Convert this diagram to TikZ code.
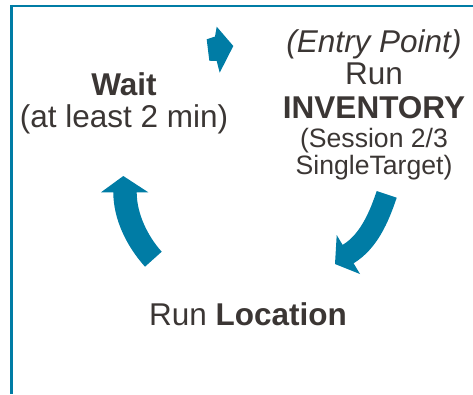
\documentclass[tikz,border=0pt]{standalone}
\usepackage{fontspec}
\setmainfont{Liberation Sans}
\definecolor{teal}{RGB}{0,124,165}
\definecolor{txt}{RGB}{59,54,52}
\begin{document}
\begin{tikzpicture}[x=1pt,y=-1pt,
  lbl/.style={anchor=base,inner sep=0pt,text=txt,font=\fontsize{31.5}{36}\selectfont},
  small/.style={lbl,font=\fontsize{26.6}{30}\selectfont},
  blockarrow/.style={fill=teal,draw=none}]
\useasboundingbox (0,0) rectangle (473,394);
% frame
\draw[teal,line width=2.5pt] (10,6) -- (473,6);
\draw[teal,line width=3pt] (11.5,4.75) -- (11.5,394);
% texts
\node[lbl] (wait1) at (124,95) {\textbf{Wait}};
\node[lbl] (wait2) at (124,127) {(at least 2 min)};
\node[lbl] (inv1) at (374,52) {\textit{(Entry Point)}};
\node[lbl] (inv2) at (374,84) {Run};
\node[lbl] (inv3) at (374,118) {\textbf{INVENTORY}};
\node[small] (inv4) at (374,147) {(Session 2/3};
\node[small] (inv5) at (374,174) {SingleTarget)};
\node[lbl] (loc) at (248,325) {Run \textbf{Location}};
% top small arrow
\fill[blockarrow] (206.7,39.3) -- (215,36.5) -- (216.7,26.7) -- (233.3,46)
  -- (219.7,72.7) -- (216.7,61) -- (209.3,60.7) -- cycle;
% right arrow
\fill[blockarrow] (376.7,191) -- (396.7,197.7)
  .. controls (388.4,222.3) and (377.3,248.7) .. (353.6,263.3)
  -- (360,274) -- (335,264) -- (336.7,235) -- (342.6,244.9)
  .. controls (360.6,234.1) and (370,210.9) .. (376.7,191) -- cycle;
% left arrow
\fill[blockarrow] (123.3,176) -- (148.3,192.3) -- (136.7,192.3)
  .. controls (136.7,213.5) and (147.6,236.1) .. (161.7,251.7)
  -- (145,266.7)
  .. controls (126.9,246.6) and (113.3,219.5) .. (113.3,192.3)
  -- (101,192.3) -- cycle;
\end{tikzpicture}
\end{document}
